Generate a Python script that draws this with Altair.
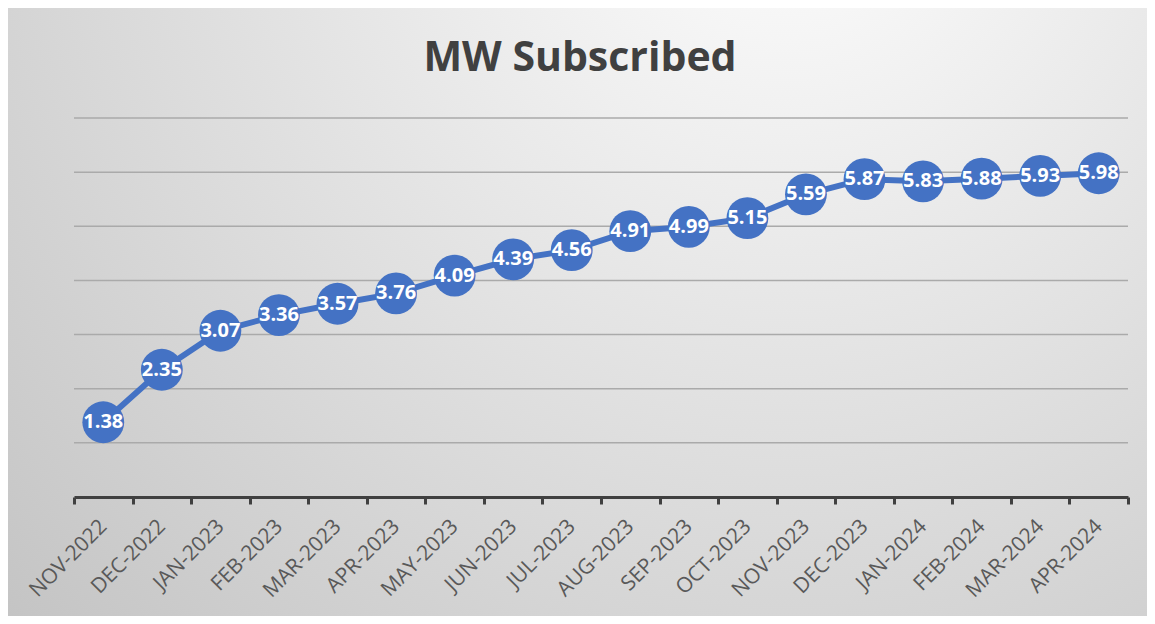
import altair as alt
import pandas as pd

months = ["NOV-2022", "DEC-2022", "JAN-2023", "FEB-2023", "MAR-2023", "APR-2023",
          "MAY-2023", "JUN-2023", "JUL-2023", "AUG-2023", "SEP-2023", "OCT-2023",
          "NOV-2023", "DEC-2023", "JAN-2024", "FEB-2024", "MAR-2024", "APR-2024"]
mw = [1.38, 2.35, 3.07, 3.36, 3.57, 3.76, 4.09, 4.39, 4.56, 4.91, 4.99, 5.15,
      5.59, 5.87, 5.83, 5.88, 5.93, 5.98]
grid_values = [1, 2, 3, 4, 5, 6, 7]
title_text = ["MW Subscribed"]

df = pd.DataFrame({"month": months, "mw": mw})
gdf = pd.DataFrame({"g": grid_values})
tdf = pd.DataFrame({"t": title_text})

W, H = 1054, 379
FONT = "Open Sans"
BLUE = "#4472C4"

x_enc = alt.X("month:N", sort=months, title=None,
              scale=alt.Scale(paddingInner=0, paddingOuter=0),
              axis=alt.Axis(labelAngle=-45, labelAlign="right", labelBaseline="middle",
                            labelFontSize=21, labelColor="#595959", labelFont=FONT,
                            labelPadding=19, tickBand="extent", ticks=True, tickSize=7,
                            tickWidth=3, tickColor="#404040", domainColor="#404040",
                            domainWidth=3, grid=False, labelOverlap=False, zindex=1))
yscale = alt.Scale(domain=[0, 7], nice=False)
y_enc = alt.Y("mw:Q", title=None, scale=yscale, axis=None)

bg = alt.Chart(tdf).mark_rect(
    clip=False,
    fill=alt.Gradient(gradient="radial", x1=0.68, y1=0.1, r1=0.0,
                      x2=0.68, y2=0.1, r2=0.95,
                      stops=[alt.GradientStop(color="#ffffff", offset=0),
                             alt.GradientStop(color="#c4c4c4", offset=1)]),
    stroke="#bdbdbd", strokeWidth=2,
).encode(x=alt.value(-70), x2=alt.value(1078), y=alt.value(-113), y2=alt.value(502))

grid = alt.Chart(gdf).mark_rule(color="#aaaaaa", strokeWidth=1.5).encode(
    y=alt.Y("g:Q", scale=yscale, axis=None), x=alt.value(0), x2=alt.value(W))

title = alt.Chart(tdf).mark_text(fontSize=41, fontWeight="bold", font=FONT, color="#404040",
                                 align="center", baseline="alphabetic", clip=False).encode(
    text="t:N", x=alt.value(506), y=alt.value(-47))

line = alt.Chart(df).mark_line(color=BLUE, strokeWidth=6).encode(x=x_enc, y=y_enc)
pts = alt.Chart(df).mark_circle(color=BLUE, opacity=1, size=1750).encode(x=x_enc, y=y_enc)
lbl = alt.Chart(df).mark_text(color="white", fontWeight="bold", fontSize=20, font=FONT,
                              baseline="middle", align="center").encode(
    x=x_enc, y=y_enc, text=alt.Text("mw:Q", format=".2f"))

chart = alt.layer(bg, grid, title, line, pts, lbl).properties(
    width=W, height=H,
    autosize=alt.AutoSizeParams(type="none"),
    padding={"left": 66, "top": 110, "right": 19, "bottom": 119},
).configure_view(stroke=None).configure(background="white")

chart.save("out.html", embed_options={"renderer": "svg", "actions": False})
